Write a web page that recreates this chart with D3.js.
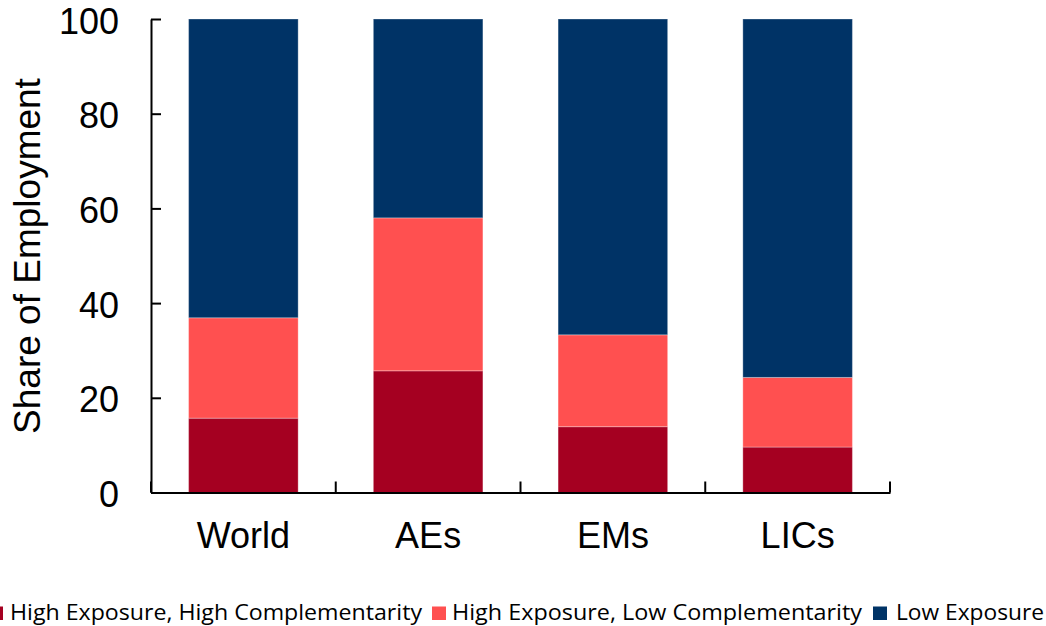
<!DOCTYPE html>
<html>
<head>
<meta charset="utf-8">
<script src="https://cdn.jsdelivr.net/npm/d3@7"></script>
<style>
  html, body { margin: 0; padding: 0; background: #fff; }
  svg { display: block; }
</style>
</head>
<body>
<svg id="chart" width="1046" height="626"></svg>
<script>
// Employment shares by country group (percent)
const categories = ["World", "AEs", "EMs", "LICs"];
const seriesNames = [
  "High Exposure, High Complementarity",
  "High Exposure, Low Complementarity",
  "Low Exposure"
];
const highHigh = [15.7, 25.7, 13.9, 9.6];
const highLow = [21.2, 32.3, 19.4, 14.7];
const lowExp = [63.1, 42.0, 66.7, 75.7];
const yTicks = [0, 20, 40, 60, 80, 100];
const colors = ["#A50021", "#FF5050", "#003366"];

const svg = d3.select("#chart");
const plotLeft = 151, plotRight = 890, plotTop = 19, plotBottom = 492.5;

const x = d3.scaleBand().domain(categories).range([plotLeft, plotRight])
  .paddingInner(0.407).paddingOuter(0.2035);
const y = d3.scaleLinear().domain([0, 100]).range([plotBottom, plotTop]);

const rows = categories.map((c, i) => ({ cat: c, s0: highHigh[i], s1: highLow[i], s2: lowExp[i] }));
const stacked = d3.stack().keys(["s0", "s1", "s2"])(rows);

svg.append("g").selectAll("g").data(stacked).join("g")
  .attr("fill", (d, i) => colors[i])
  .selectAll("rect").data(d => d).join("rect")
  .attr("x", d => x(d.data.cat))
  .attr("width", x.bandwidth())
  .attr("y", d => y(d[1]))
  .attr("height", d => y(d[0]) - y(d[1]))
  .attr("stroke", "#ffffff")
  .attr("stroke-opacity", 0.3)
  .attr("stroke-width", 1);

const font = "'Liberation Sans', Arial, sans-serif";

// y axis with inward ticks
const yAxis = svg.append("g").attr("transform", `translate(${plotLeft},0)`)
  .call(d3.axisLeft(y).tickValues(yTicks).tickSizeInner(-10).tickSizeOuter(0).tickPadding(32));
yAxis.select(".domain").attr("stroke", "#000").attr("stroke-width", 2);
yAxis.selectAll(".tick line").attr("stroke", "#000").attr("stroke-width", 2);
yAxis.selectAll("text").attr("font-family", font).attr("font-size", 36)
  .attr("dy", "0.39em").attr("fill", "#000");

// x axis, labels centred on bars
const xAxis = svg.append("g").attr("transform", `translate(0,${plotBottom})`)
  .call(d3.axisBottom(x).tickSize(0).tickPadding(30));
xAxis.select(".domain").attr("stroke", "#000").attr("stroke-width", 2);
xAxis.selectAll("text").attr("font-family", font).attr("font-size", 36).attr("fill", "#000");

// category boundary ticks
const bounds = d3.range(categories.length + 1).map(i => x.range()[0] + i * x.step());
xAxis.selectAll(".bound").data(bounds).join("line")
  .attr("class", "bound")
  .attr("x1", d => d).attr("x2", d => d)
  .attr("y1", 0).attr("y2", -11)
  .attr("stroke", "#000").attr("stroke-width", 2);

// y title
svg.append("text")
  .attr("transform", `translate(40,256) rotate(-90)`)
  .attr("text-anchor", "middle")
  .attr("font-family", font).attr("font-size", 37).attr("fill", "#000")
  .text("Share of Employment");

// legend
const legendItems = [
  { sx: -11, tx: 10, len: 412 },
  { sx: 432, tx: 452, len: 410 },
  { sx: 873, tx: 896, len: 148 }
];
const lg = svg.append("g");
legendItems.forEach((it, i) => {
  lg.append("rect").attr("x", it.sx).attr("y", 606.5).attr("width", 14).attr("height", 13.5)
    .attr("fill", colors[i]);
  lg.append("text").attr("x", it.tx).attr("y", 619.5)
    .attr("font-family", "'Open Sans', 'Noto Sans', sans-serif").attr("font-size", 22)
    .attr("fill", "#000")
    .attr("textLength", it.len).attr("lengthAdjust", "spacingAndGlyphs")
    .text(seriesNames[i]);
});
</script>
</body>
</html>
